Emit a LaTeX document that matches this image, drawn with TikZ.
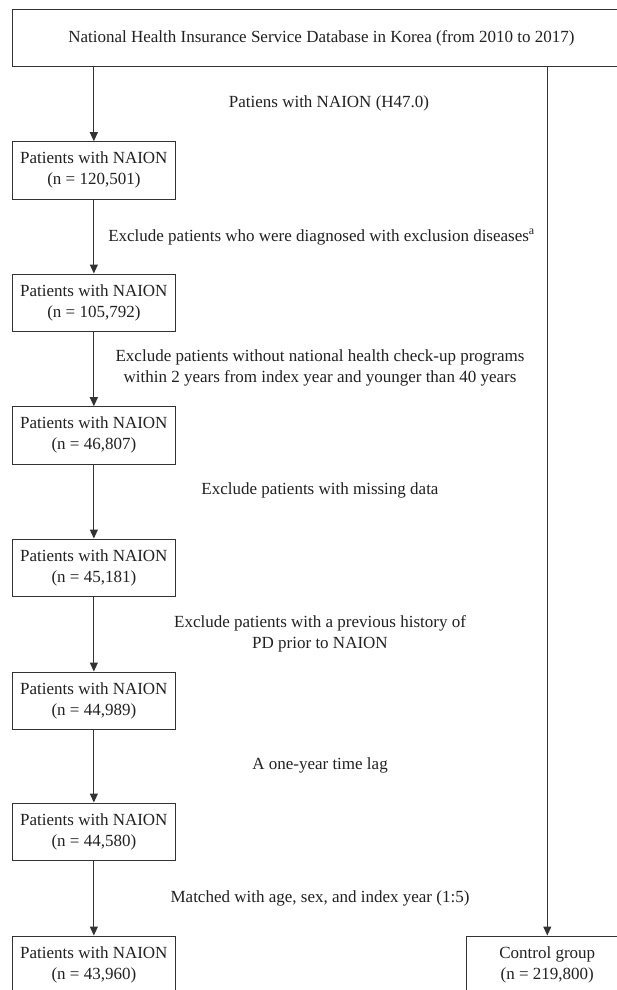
\documentclass[tikz,border=0pt]{standalone}
\usepackage{fontspec}
\setmainfont{Liberation Serif}
\usetikzlibrary{arrows.meta}
\definecolor{ink}{rgb}{0.2,0.2,0.2}
\definecolor{txt}{rgb}{0.13,0.13,0.13}
\begin{document}
\begin{tikzpicture}[x=1pt,y=-1pt,
  font=\fontsize{17}{21}\selectfont,
  box/.style={draw=ink,line width=1pt,text=txt,minimum height=57.4pt,inner sep=0pt,align=center},
  lbox/.style={box,minimum width=162.3pt},
  lab/.style={text=txt,align=center,inner sep=0pt},
  arr/.style={draw=ink,line width=1pt,-{Triangle[width=8pt,length=9pt]}}]
\clip (0,0) rectangle (617,990);
\fill[white] (0,0) rectangle (617,990);
\node[box,minimum width=617.3pt] (top) at (321.35,38) {National Health Insurance Service Database in Korea (from 2010 to 2017)};
\node[lbox] (b1) at (93.85,170.4) {Patients with NAION\\(n = 120,501)};
\node[lbox] (b2) at (93.85,302.7) {Patients with NAION\\(n = 105,792)};
\node[lbox] (b3) at (93.85,435.4) {Patients with NAION\\(n = 46,807)};
\node[lbox] (b4) at (93.85,567.7) {Patients with NAION\\(n = 45,181)};
\node[lbox] (b5) at (93.85,700.7) {Patients with NAION\\(n = 44,989)};
\node[lbox] (b6) at (93.85,831.7) {Patients with NAION\\(n = 44,580)};
\node[lbox] (b7) at (93.85,964.7) {Patients with NAION\\(n = 43,960)};
\node[lbox] (ctrl) at (547.3,964.7) {Control group\\(n = 219,800)};
\node[lab] (l0) at (329,103) {Patiens with NAION (H47.0)};
\node[lab] (l1) at (321.5,237) {Exclude patients who were diagnosed with exclusion diseases\textsuperscript{a}};
\node[lab] (l2) at (320,368) {Exclude patients without national health check-up programs\\within 2 years from index year and younger than 40 years};
\node[lab] (l3) at (320,490) {Exclude patients with missing data};
\node[lab] (l4) at (320,634) {Exclude patients with a previous history of\\PD prior to NAION};
\node[lab] (l5) at (320,765) {A one-year time lag};
\node[lab] (l6) at (320,898) {Matched with age, sex, and index year (1:5)};
\draw[arr] (top.south -| b1.north) -- (b1.north);
\draw[arr] (b1) -- (b2);
\draw[arr] (b2) -- (b3);
\draw[arr] (b3) -- (b4);
\draw[arr] (b4) -- (b5);
\draw[arr] (b5) -- (b6);
\draw[arr] (b6) -- (b7);
\draw[arr] (top.south -| ctrl.north) -- (ctrl.north);
\end{tikzpicture}
\end{document}
